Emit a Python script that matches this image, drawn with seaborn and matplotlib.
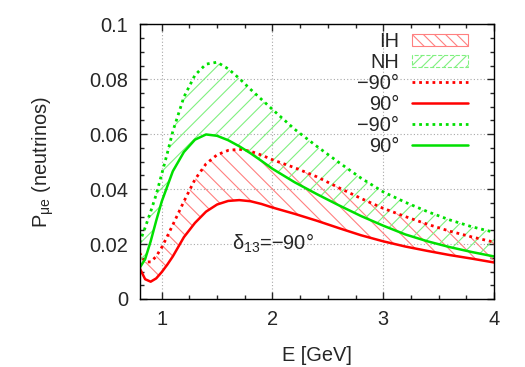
import numpy as np
import pandas as pd
import seaborn as sns
import matplotlib.pyplot as plt
from matplotlib.patches import Patch
from matplotlib.lines import Line2D
from matplotlib.ticker import MultipleLocator

energy = [0.8, 0.85, 0.9, 0.95, 1.0, 1.05, 1.1, 1.2, 1.3, 1.4, 1.5, 1.6, 1.7,
          1.8, 1.9, 2.0, 2.2, 2.4, 2.6, 2.8, 3.0, 3.2, 3.4, 3.6, 3.8, 4.0]
ih_minus90 = [0.0168, 0.0135, 0.0135, 0.0155, 0.0188, 0.0228, 0.0270, 0.0355, 0.0435,
              0.0492, 0.0525, 0.0541, 0.0545, 0.0538, 0.0524, 0.0507, 0.0478, 0.0445,
              0.0405, 0.0366, 0.0330, 0.0300, 0.0272, 0.0247, 0.0226, 0.0207]
ih_plus90 = [0.0113, 0.0072, 0.0063, 0.0075, 0.0098, 0.0125, 0.0155, 0.0225, 0.0277,
             0.0318, 0.0344, 0.0357, 0.0360, 0.0356, 0.0346, 0.0333, 0.0310, 0.0285,
             0.0258, 0.0232, 0.0210, 0.0191, 0.0175, 0.0160, 0.0147, 0.0133]
nh_minus90 = [0.0205, 0.0260, 0.0318, 0.0380, 0.0455, 0.0530, 0.0610, 0.0735, 0.0815,
              0.0855, 0.0862, 0.0838, 0.0803, 0.0764, 0.0727, 0.0690, 0.0618, 0.0556,
              0.0497, 0.0440, 0.0390, 0.0352, 0.0318, 0.0288, 0.0263, 0.0243]
nh_plus90 = [0.0113, 0.0145, 0.0210, 0.0285, 0.0355, 0.0410, 0.0465, 0.0535, 0.0580,
             0.0599, 0.0594, 0.0578, 0.0556, 0.0531, 0.0503, 0.0474, 0.0425, 0.0382,
             0.0341, 0.0302, 0.0267, 0.0235, 0.0210, 0.0189, 0.0171, 0.0155]

df = pd.DataFrame({"E": energy, "ih_m": ih_minus90, "ih_p": ih_plus90,
                   "nh_m": nh_minus90, "nh_p": nh_plus90})

sns.set_style("ticks")
plt.rcParams["font.family"] = ["Liberation Sans", "DejaVu Sans"]
plt.rcParams["font.size"] = 14.4
plt.rcParams["hatch.linewidth"] = 0.8

RED = "#ff0000"
GREEN = "#00e000"
RED_H = "#ff8080"
GREEN_H = "#80f080"
dotted = (0, (1, 1.4))

fig = plt.figure(figsize=(5.25, 3.67), dpi=100)
ax = fig.add_axes([0.2659, 0.1853, 0.6749, 0.7485])

# hatched bands
ax.fill_between(df["E"], df["ih_p"], df["ih_m"], facecolor="none", edgecolor=RED_H,
                hatch="\\\\", linewidth=0)
ax.fill_between(df["E"], df["nh_p"], df["nh_m"], facecolor="none", edgecolor=GREEN_H,
                hatch="//", linewidth=0)

sns.lineplot(data=df, x="E", y="ih_m", color=RED, linewidth=2, linestyle=dotted, ax=ax)
sns.lineplot(data=df, x="E", y="ih_p", color=RED, linewidth=1.8, ax=ax)
sns.lineplot(data=df, x="E", y="nh_m", color=GREEN, linewidth=2, linestyle=dotted, ax=ax)
sns.lineplot(data=df, x="E", y="nh_p", color=GREEN, linewidth=1.8, ax=ax)

ax.set_xlim(0.8, 4)
ax.set_ylim(0, 0.1)
ax.xaxis.set_major_locator(MultipleLocator(1))
ax.xaxis.set_minor_locator(MultipleLocator(0.25))
ax.yaxis.set_major_locator(MultipleLocator(0.02))
ax.yaxis.set_minor_locator(MultipleLocator(0.005))
ax.set_yticks([0, 0.02, 0.04, 0.06, 0.08, 0.1])
ax.set_yticklabels(["0", "0.02", "0.04", "0.06", "0.08", "0.1"])
ax.tick_params(which="both", direction="in", top=True, right=True, labelsize=14.4, pad=8)
ax.tick_params(which="major", length=5, width=1)
ax.tick_params(which="minor", length=3, width=1)
ax.grid(True, which="major", color="#a8a8a8", linestyle=(0, (1, 2)), linewidth=0.8)
for s in ax.spines.values():
    s.set_linewidth(1)
    s.set_color("black")

ax.set_xlabel("E [GeV]", fontsize=14.4, labelpad=12)
ax.set_ylabel("P$_{\\mathregular{μe}}$ (neutrinos)", fontsize=14.4, labelpad=24)

ax.text(1.632, 0.0178, "δ$_{\\mathregular{13}}$=−90°", fontsize=14.4, ha="left", va="baseline")

handles = [
    Patch(facecolor="none", edgecolor=RED_H, hatch="\\\\\\", linewidth=0.8),
    Patch(facecolor="none", edgecolor=GREEN_H, hatch="///", linewidth=0.8, linestyle="--"),
    Line2D([], [], color=RED, linewidth=2, linestyle=dotted),
    Line2D([], [], color=RED, linewidth=1.8),
    Line2D([], [], color=GREEN, linewidth=2, linestyle=dotted),
    Line2D([], [], color=GREEN, linewidth=1.8),
]
labels = ["IH", "NH", "−90°", "90°", "−90°", "90°"]
ax.legend(handles, labels, loc="upper right", bbox_to_anchor=(0.927, 0.972),
          frameon=False, markerfirst=False, fontsize=14.4, handlelength=2.8,
          handleheight=0.6, handletextpad=0.65, labelspacing=0.1,
          borderpad=0, borderaxespad=0)

fig.savefig("out.png", dpi=100)
